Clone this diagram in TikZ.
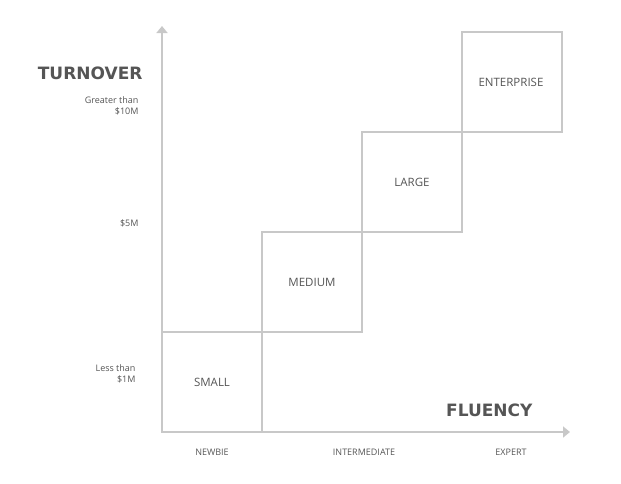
\documentclass[tikz,border=0pt]{standalone}
\usepackage{fontspec}
\setmainfont{Open Sans}
\newfontfamily\headfont{DejaVu Sans}
\usetikzlibrary{arrows.meta}
\definecolor{linegray}{RGB}{200,200,200}
\definecolor{textgray}{RGB}{85,85,85}
\tikzset{
  axis/.style={linegray, line width=2.5pt, -{Triangle[length=7pt,width=11pt]}},
  tier/.style={draw=linegray, line width=1.8pt, minimum size=100pt, inner sep=0pt,
    text=textgray, font=\fontsize{11.5}{13}\selectfont},
  tick/.style={text=textgray, font=\fontsize{9}{11}\selectfont, align=right},
  title/.style={text=textgray, font=\headfont\fontsize{17}{20}\selectfont\bfseries}
}
\begin{document}
\begin{tikzpicture}[x=1pt,y=-1pt]
 \useasboundingbox (0,0) rectangle (621,483);

 % axes
 \coordinate (origin) at (162,432);
 \coordinate (ytop) at (162,26);
 \coordinate (xend) at (570,432);
 \draw[axis] (origin) -- (ytop);
 \draw[axis] (origin) -- (xend);

 % tiers
 \node[tier] (small) at (212,382) {SMALL};
 \node[tier] (medium) at (312,282) {MEDIUM};
 \node[tier] (large) at (412,182) {LARGE};
 \node[tier] (enterprise) at (512,82) {};
 \node[text=textgray, font=\fontsize{11.5}{13}\selectfont] at (511,82) {ENTERPRISE};

 % axis titles
 \node[title, anchor=east] (turnover) at (146,73) {TURNOVER};
 \node[title, anchor=east] (fluency) at (536,410) {FLUENCY};

 % turnover ticks
 \node[tick, anchor=east] (big) at (142,106) {Greater than\\\$10M};
 \node[tick, anchor=east] (mid) at (142,223) {\$5M};
 \node[tick, anchor=east] (low) at (139,374) {Less than\\\$1M};

 % fluency ticks
 \node[tick] (newbie) at (212,452) {NEWBIE};
 \node[tick] (inter) at (364,452) {INTERMEDIATE};
 \node[tick] (expert) at (511,452) {EXPERT};
\end{tikzpicture}
\end{document}
